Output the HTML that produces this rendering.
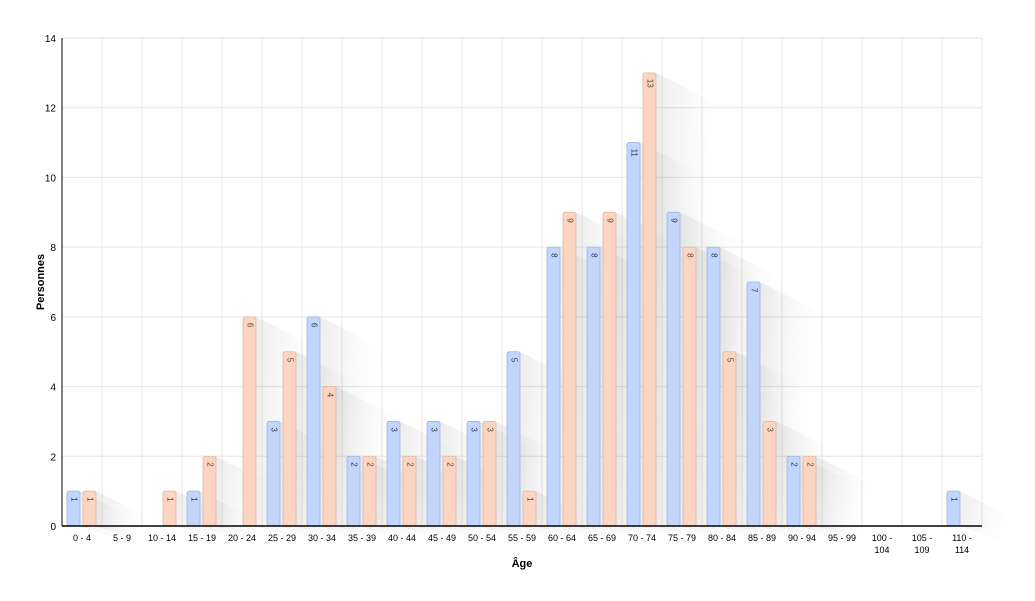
<!DOCTYPE html>
<html><head><meta charset="utf-8"><style>
body{margin:0;background:#fff}
svg{display:block;font-family:"Liberation Sans",sans-serif}
</style></head><body>
<svg id="chart" width="1035" height="601" viewBox="0 0 1035 601">
<defs>
<linearGradient id="sh" x1="0" y1="0" x2="1" y2="0.3">
<stop offset="0" stop-color="#000" stop-opacity="0.07"/>
<stop offset="0.6" stop-color="#000" stop-opacity="0.02"/>
<stop offset="1" stop-color="#000" stop-opacity="0"/>
</linearGradient>
</defs>
<g id="grid"></g><g id="shadows"></g><g id="bars"></g><g id="axes"></g>
<text x="44" y="282" font-size="11" font-weight="bold" text-anchor="middle" transform="rotate(-90 44 282)">Personnes</text>
<text x="522" y="567" font-size="11" font-weight="bold" text-anchor="middle">Âge</text>
</svg>
<script>
const categories=["0 - 4","5 - 9","10 - 14","15 - 19","20 - 24","25 - 29","30 - 34","35 - 39","40 - 44","45 - 49","50 - 54","55 - 59","60 - 64","65 - 69","70 - 74","75 - 79","80 - 84","85 - 89","90 - 94","95 - 99","100 - 104","105 - 109","110 - 114"];
const seriesA=[1,0,0,1,0,3,6,2,3,3,3,5,8,8,11,9,8,7,2,0,0,0,1];
const seriesB=[1,0,1,2,6,5,4,2,2,2,3,1,9,9,13,8,5,3,2,0,0,0,0];
const yTicks=[0,2,4,6,8,10,12,14];
const NS="http://www.w3.org/2000/svg";
const X0=62,X1=982,Y0=526,Y1=38,YMAX=14;
const bw=(X1-X0)/categories.length;
const y=v=>Y0-(v/YMAX)*(Y0-Y1);
const x=i=>X0+i*bw;
function mk(tag,attrs,parent,txt){const e=document.createElementNS(NS,tag);for(const k in attrs)e.setAttribute(k,attrs[k]);if(txt!==undefined)e.textContent=txt;document.getElementById(parent).appendChild(e);return e;}
yTicks.forEach(t=>{
 const l=mk('line',{x1:X0,x2:X1,y1:y(t),y2:y(t),stroke:'#e6e6e6'},'grid');
 
 
 const tx=mk('text',{x:X0-6,y:y(t)+4,'font-size':10,'text-anchor':'end'},'axes',t);
 
 
});
for(let i=0;i<=categories.length;i++){
 const l=mk('line',{x1:x(i),x2:x(i),y1:Y1,y2:Y0,stroke:'#e6e6e6'},'grid');
 
 
}
categories.forEach((c,i)=>{
 const cx=x(i)+bw/2;
 const parts=c.split(' - ');
 let t;
 if(c.length>8){
  t=mk('text',{x:cx,y:541,'font-size':9,'text-anchor':'middle'},'axes');
  const a=document.createElementNS(NS,'tspan');a.setAttribute('x',cx);a.textContent=parts[0]+' -';t.appendChild(a);
  const b=document.createElementNS(NS,'tspan');b.setAttribute('x',cx);b.setAttribute('dy','12');b.textContent=parts[1];t.appendChild(b);
 } else t=mk('text',{x:cx,y:541,'font-size':9,'text-anchor':'middle'},'axes',c);
 
 
 [[seriesA,5,'#c2d6fb','#9db5e3','#334'],[seriesB,21,'#fcd5c0','#e0b7a0','#543']].forEach(([s,off,fill,st,tc],k)=>{
  const v=s[i]; if(!v) return;
  const bx=x(i)+off, top=y(v), w=13;
  const L=Math.min(60,(Y0-top)*0.9+25);
  const sp=mk('polygon',{points:`${bx+w},${top} ${bx+w+L},${top+L*0.5} ${bx+w+L},${Y0+L*0.35} ${bx+w},${Y0}`,fill:'url(#sh)'},'shadows');
  
  
  const r=mk('rect',{x:bx,y:top,width:w,height:Y0-top,rx:2,fill:fill,stroke:st,'stroke-width':0.8},'bars');
  
  
  const lt=mk('text',{x:bx+w/2,y:top+6,'font-size':8,fill:tc,transform:`rotate(90 ${bx+w/2} ${top+6})`,'dominant-baseline':'middle'},'bars',v);
  
  
 });
});
const ax=mk('line',{x1:X0,x2:X0,y1:Y1,y2:Y0,stroke:'#000','stroke-width':1},'axes');


const bx=mk('line',{x1:X0,x2:X1,y1:Y0,y2:Y0,stroke:'#000','stroke-width':1.5},'axes');


</script>
</body></html>
